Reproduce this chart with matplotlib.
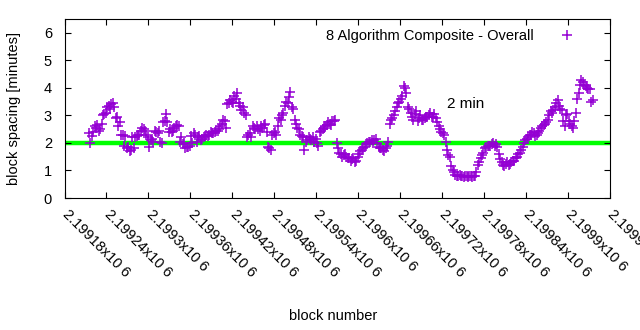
import numpy as np
import matplotlib
matplotlib.use("Agg")
import matplotlib.pyplot as plt

plt.rcParams['font.family'] = ['Liberation Sans', 'DejaVu Sans']

# block spacing (minutes), one sample every 4 blocks
first_block = 2199215
block_step = 4
spacing = [
    2.35, 2.25, 2.6, 2.65, 2.5, 3.0, 3.1, 3.35, 3.4, 3.3,
    2.95, 2.75, 2.3, 2.25, 1.85, 1.75, 1.8, 2.25, 2.3, 2.55,
    2.45, 2.2, 2.1, 2.05, 2.4, 2.45, 2.0, 2.8, 2.75, 2.5,
    2.45, 2.6, 2.6, 2.2, 2.0, 1.85, 1.9, 2.0, 2.3, 2.2,
    2.1, 2.2, 2.3, 2.3, 2.35, 2.4, 2.45, 2.6, 2.85, 2.55,
    3.45, 3.5, 3.7, 3.8, 3.35, 3.3, 3.0, 2.3, 2.2, 2.55,
    2.6, 2.45, 2.55, 2.7, 1.85, 1.75, 2.35, 2.3, 2.9, 3.0,
    3.35, 3.45, 3.85, 3.25, 2.7, 2.5, 2.25, 1.75, 2.1, 2.15,
    2.2, 2.15, 1.9, 2.45, 2.55, 2.65, 2.7, 2.8, 2.85, 1.8,
    1.6, 1.55, 1.5, 1.45, 1.4, 1.3, 1.5, 1.7, 1.8, 1.95,
    2.05, 2.1, 2.1, 2.0, 1.8, 1.75, 1.8, 2.05, 2.85, 3.0,
    3.3, 3.5, 3.7, 4.0, 3.3, 3.1, 2.85, 3.15, 2.9, 2.85,
    2.9, 2.95, 3.1, 2.95, 2.9, 2.6, 2.4, 2.3, 1.75, 1.5,
    1.0, 0.85, 0.8, 0.8, 0.75, 0.8, 0.8, 0.75, 0.8, 1.2,
    1.45, 1.65, 1.85, 1.9, 1.95, 1.9, 1.85, 1.4, 1.2, 1.25,
    1.2, 1.3, 1.35, 1.5, 1.65, 1.85, 2.1, 2.2, 2.3, 2.35,
    2.3, 2.45, 2.6, 2.7, 2.85, 3.15, 3.2, 3.45, 3.35, 3.2,
    2.6, 3.05, 2.7, 2.55, 3.1, 3.8, 4.3, 4.1, 4.0, 3.95,
    3.55,
]
# the blocks in between (offset by 2)
spacing_mid = [
    2.0, 2.4, 2.55, 2.45, 2.7, 3.05, 3.3, 3.25, 3.45, 2.9,
    2.6, 2.3, 1.9, 1.8, 1.7, 2.2, 2.2, 2.3, 2.45, 2.5,
    2.3, 1.85, 2.15, 2.45, 2.35, 2.05, 2.75, 3.05, 2.4, 2.4,
    2.55, 2.65, 2.05, 1.95, 1.8, 1.85, 2.25, 2.35, 2.05, 2.25,
    2.15, 2.25, 2.25, 2.4, 2.35, 2.45, 2.5, 2.7, 2.8, 3.4,
    3.55, 3.45, 3.6, 3.45, 3.2, 3.1, 2.2, 2.35, 2.6, 2.5,
    2.5, 2.6, 2.65, 2.4, 1.8, 2.3, 2.4, 2.6, 2.85, 3.1,
    3.5, 3.65, 3.3, 2.85, 2.55, 2.3, 2.2, 2.05, 2.2, 2.1,
    2.05, 2.0, 2.4, 2.5, 2.6, 2.75, 2.65, 2.8, 2.0, 1.65,
    1.5, 1.6, 1.45, 1.35, 1.45, 1.35, 1.6, 1.75, 1.85, 2.0,
    2.05, 2.0, 2.15, 1.85, 1.8, 1.7, 1.9, 2.7, 2.9, 3.15,
    3.45, 3.6, 4.05, 3.8, 3.25, 2.95, 3.05, 2.8, 3.0, 2.85,
    2.95, 3.0, 2.95, 3.05, 2.75, 2.5, 2.35, 2.05, 1.55, 1.15,
    0.95, 0.8, 0.85, 0.8, 0.8, 0.75, 0.8, 0.8, 0.95, 1.3,
    1.55, 1.8, 1.9, 1.9, 2.0, 1.95, 1.6, 1.3, 1.15, 1.3,
    1.25, 1.35, 1.45, 1.6, 1.75, 2.0, 2.15, 2.3, 2.4, 2.25,
    2.35, 2.55, 2.65, 2.75, 3.0, 3.1, 3.3, 3.55, 3.25, 2.8,
    3.0, 2.8, 2.6, 2.8, 3.6, 4.1, 4.2, 4.05, 3.95, 3.5,
]
blocks = first_block + block_step * np.arange(len(spacing))
blocks_mid = first_block + block_step // 2 + block_step * np.arange(len(spacing_mid))

all_blocks = np.concatenate([blocks, blocks_mid])
all_spacing = np.concatenate([spacing, spacing_mid])
order = np.argsort(all_blocks)

xticks = np.arange(2199180, 2199961, 60)
xticklabels = ['%gx10 6' % (t / 1e6) for t in xticks]
target = 2

fig = plt.figure(figsize=(6.4, 3.3), dpi=100)
ax = fig.add_axes([0.1008, 0.4, 0.8523, 0.5424])

ax.plot(all_blocks[order], all_spacing[order], '+', color='#9400d3',
        markersize=6.5, mew=1.1, label='8 Algorithm Composite - Overall')
ax.axhline(target, color='#00ff00', linewidth=3.2, zorder=0)
ax.text(2199753, 3.4, '2 min', fontsize=11, ha='center', va='center')

ax.set_xlim(2199180, 2199960)
ax.set_ylim(0, 6.5)
ax.set_yticks(range(0, 7))
ax.set_xticks(xticks)
ax.set_xticklabels(xticklabels, rotation=-45, ha='left', va='center',
                   rotation_mode='anchor')
ax.tick_params(direction='in', length=4, width=0.8, top=True, right=True,
               labelsize=10.5)
ax.tick_params(axis='x', pad=10)
ax.tick_params(axis='y', pad=9)
for s in ax.spines.values():
    s.set_linewidth(0.8)

ax.set_ylabel('block spacing [minutes]', fontsize=10.5)
ax.yaxis.set_label_coords(-0.08, 0.5)
ax.set_xlabel('block number', fontsize=10.5)
ax.xaxis.set_label_coords(0.492, -0.62)

ax.legend(loc='upper right', markerfirst=False, frameon=False, fontsize=10.5,
          bbox_to_anchor=(0.96, 1.0), handlelength=1.5, handletextpad=1.5,
          borderaxespad=0.3)

plt.savefig('out.png', dpi=100)
